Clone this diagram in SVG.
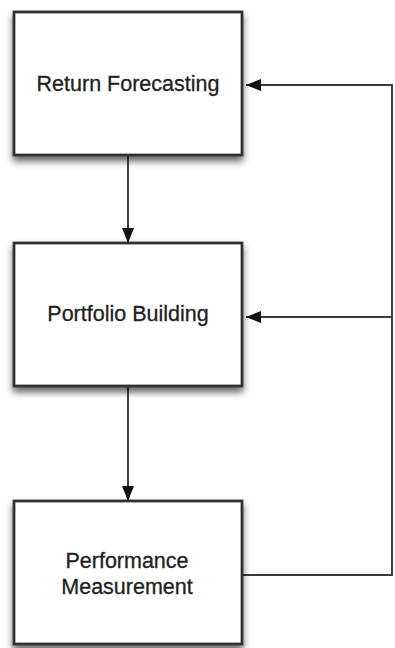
<svg xmlns="http://www.w3.org/2000/svg" width="395" height="648" viewBox="0 0 395 648">
<defs>
<filter id="sh" x="-20%" y="-20%" width="140%" height="150%">
<feDropShadow dx="0" dy="5" stdDeviation="3.5" flood-color="#000" flood-opacity="0.6"/>
</filter>
<marker id="ah" viewBox="0 0 15 12" refX="15" refY="6" markerWidth="15" markerHeight="12" markerUnits="userSpaceOnUse" orient="auto">
<path d="M0,0 L15,6 L0,12 Z" fill="#111"/>
</marker>
<style>
.box{fill:#fff;stroke:#333;stroke-width:2.8;filter:url(#sh)}
.lbl{font-family:"Liberation Sans",Arial,sans-serif;font-size:21.5px;fill:#222;stroke:#222;stroke-width:0.3;text-anchor:middle}
.ln{fill:none;stroke:#3a3a3a;stroke-width:1.9}
</style>
</defs>
<rect width="395" height="648" fill="#fff"/>
<g id="connectors">
<path class="ln" d="M128,156 V243" marker-end="url(#ah)"/>
<path class="ln" d="M128,387 V501" marker-end="url(#ah)"/>
<path class="ln" d="M243,575 H392 V85 H246" marker-end="url(#ah)"/>
<path class="ln" d="M392,317 H246" marker-end="url(#ah)"/>
</g>
<g id="return-forecasting">
<rect class="box" x="14" y="12" width="228" height="143"/>
<text class="lbl" x="128" y="91">Return Forecasting</text>
</g>
<g id="portfolio-building">
<rect class="box" x="14" y="243" width="228" height="143"/>
<text class="lbl" x="128" y="321">Portfolio Building</text>
</g>
<g id="performance-measurement">
<rect class="box" x="14" y="501" width="228" height="143"/>
<text class="lbl" x="127" y="568">Performance</text>
<text class="lbl" x="127" y="594">Measurement</text>
</g>
</svg>
